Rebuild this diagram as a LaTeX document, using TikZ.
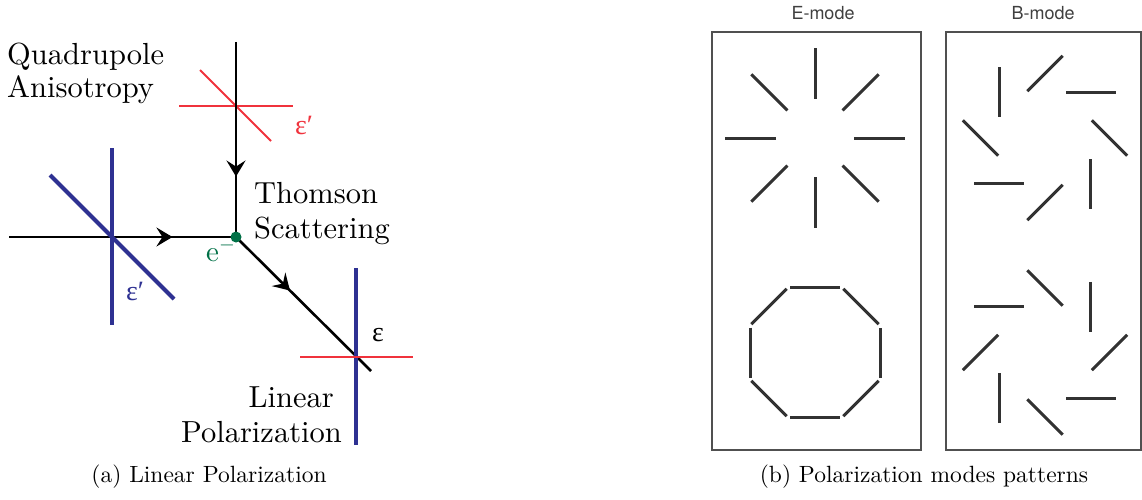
\documentclass[tikz,border=0pt]{standalone}
\usepackage{fontspec}
\setmainfont{lmroman10-regular.otf}
\newfontfamily\heros{TeX Gyre Heros}
\newfontfamily\grk{Liberation Serif}
\DeclareFontShape{OML}{cmm}{m}{it}{<->cmmi10}{}
\DeclareFontShape{OMS}{cmsy}{m}{n}{<->cmsy10}{}
\usetikzlibrary{arrows.meta,decorations.markings}
\definecolor{polblue}{RGB}{46,49,146}
\definecolor{polred}{RGB}{240,50,60}
\definecolor{elgreen}{RGB}{0,112,70}
\definecolor{segcol}{RGB}{50,50,50}
\definecolor{boxcol}{RGB}{80,80,80}
\tikzset{
  ray/.style={line width=2.6pt, black},
  pblue/.style={line width=4pt, polblue},
  pred/.style={line width=2pt, polred},
  lab/.style={font=\fontsize{30.5}{36}\selectfont, inner sep=0pt},
  epslab/.style={font=\grk\fontsize{28}{32}\selectfont, inner sep=0pt},
  midarrow/.style={postaction={decorate}, decoration={markings,
      mark=at position #1 with {\arrow{Stealth[length=16pt,width=19pt,inset=6pt]}}}},
  seg/.style={line width=3pt, segcol},
  panel/.style={line width=2pt, boxcol},
  captext/.style={font=\fontsize{23.5}{28}\selectfont, inner sep=0pt},
  modelab/.style={font=\heros\fontsize{18}{20}\selectfont, text=black!75, inner sep=0pt}
}
\begin{document}
\begin{tikzpicture}[x=1pt,y=-1pt]
\useasboundingbox (0,0) rectangle (1142,500);

% ---- left diagram ----
\coordinate (vtop) at (236,42);
\coordinate (e) at (236,237);
\coordinate (hl) at (9,237);
\coordinate (dout) at (371,371);

% top red polarization cross
\draw[pred] (179,106) -- (293,106);
\draw[pred] (200,70) -- (271,141);

% rays
\draw[ray, midarrow=0.69] (vtop) -- (e);
\draw[ray, midarrow=0.72] (hl) -- (e);
\draw[ray, midarrow=0.40] (e) -- (dout);

% left blue cross
\draw[pblue] (112,148) -- (112,325);
\draw[pblue] (50,175) -- (174,299);

% bottom cross
\draw[pblue] (356,268) -- (356,445);
\draw[pred] (300,357) -- (413,357);

% electron
\node[circle, fill=elgreen, minimum size=11pt, inner sep=0pt] (dot) at (e) {};

% labels
\node[lab, anchor=base west] (quad) at (7,65) {Quadrupole};
\node[lab, anchor=base west] (aniso) at (7,98) {Anisotropy};
\node[lab, anchor=base west] (thom) at (254,203) {Thomson};
\node[lab, anchor=base west] (scat) at (254,238) {Scattering};
\node[lab, anchor=base east] (lin) at (334,407) {Linear};
\node[lab, anchor=base east] (polz) at (342,442) {Polarization};
\node[epslab, text=polred, anchor=base west] (epsr) at (295,135) {ε′};
\node[epslab, text=polblue, anchor=base west] (epsb) at (126,300) {ε′};
\node[epslab, anchor=base west] (epsk) at (372,341) {ε};
\node[font=\fontsize{29}{34}\selectfont, inner sep=0pt, text=elgreen, anchor=base west] (elab) at (206,261) {e$^{-}$};

\node[captext, anchor=base] (capa) at (209,482) {(a) Linear Polarization};

% ---- right panels ----
\node[modelab, anchor=base] (emode) at (823,20) {E-mode};
\node[modelab, anchor=base] (bmode) at (1043,20) {B-mode};
\draw[panel] (712,32) rectangle (921,450);
\draw[panel] (946,32) rectangle (1141,450);

% E-mode radial
\begin{scope}[shift={(815,138)}]
  \foreach \a in {0,45,...,315} \draw[seg] (\a:39) -- (\a:90);
\end{scope}
% E-mode tangential
\begin{scope}[shift={(815,352.5)}]
  \foreach \a in {0,45,...,315} \draw[seg] (\a:65) ++(\a+90:25) -- ++(\a+90:-50);
\end{scope}
% B-mode top
\begin{scope}[shift={(1045,138)}]
  \foreach \a in {0,45,...,315} \draw[seg] (\a:64.5) ++(\a+45:25) -- ++(\a+45:-50);
\end{scope}
% B-mode bottom
\begin{scope}[shift={(1045,352.5)}]
  \foreach \a in {0,45,...,315} \draw[seg] (\a:64.5) ++(\a-45:25) -- ++(\a-45:-50);
\end{scope}

\node[captext, anchor=base] (capb) at (924,482) {(b) Polarization modes patterns};
\end{tikzpicture}
\end{document}
